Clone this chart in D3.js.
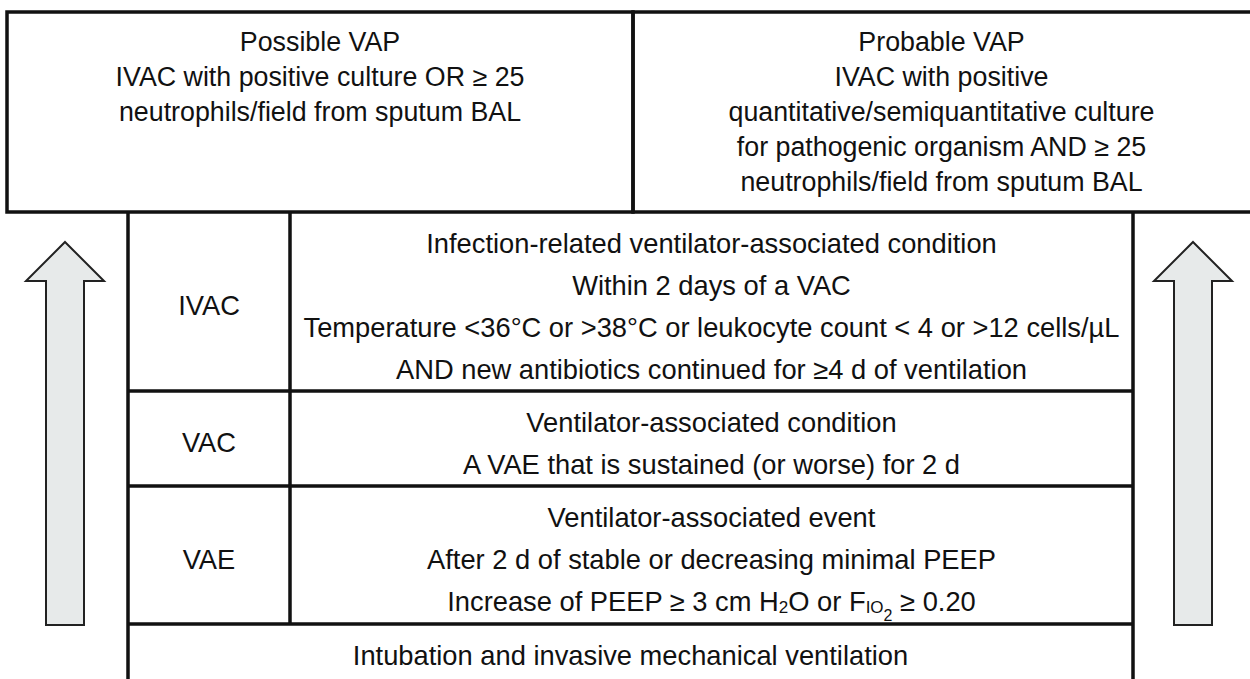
<!DOCTYPE html>
<meta charset="utf-8">
<style>
    body { margin: 0; background: #fff; }
    svg text {
        font-family: "Liberation Sans", Arial, Helvetica, sans-serif;
        font-size: 27.3px;
        fill: #111;
        text-anchor: middle;
    }
    svg text.top { font-size: 26.8px; }
    .frame {
        fill: none;
        stroke: #111;
        stroke-width: 3.5px;
    }
    .arrow {
        fill: #e7eaea;
        stroke: #222;
        stroke-width: 2px;
    }
</style>
<svg width="1250" height="679"></svg>
<script src="https://d3js.org/d3.v7.min.js"></script>
<script>

    // boxes on top
    var topTitles = ["Possible VAP", "Probable VAP"];
    var topLines = [
        ["IVAC with positive culture OR \u2265 25",
         "neutrophils/field from sputum BAL"],
        ["IVAC with positive",
         "quantitative/semiquantitative culture",
         "for pathogenic organism AND \u2265 25",
         "neutrophils/field from sputum BAL"]
    ];

    // table rows, from top to bottom
    var rowLabels = ["IVAC", "VAC", "VAE", ""];
    var rowLines = [
        ["Infection-related ventilator-associated condition",
         "Within 2 days of a VAC",
         "Temperature <36\u00b0C or >38\u00b0C or leukocyte count < 4 or >12 cells/\u00b5L",
         "AND new antibiotics continued for \u22654 d of ventilation"],
        ["Ventilator-associated condition",
         "A VAE that is sustained (or worse) for 2 d"],
        ["Ventilator-associated event",
         "After 2 d of stable or decreasing minimal PEEP",
         "Increase of PEEP \u2265 3 cm H_{2}O or F_{IO}__{2} \u2265 0.20"],
        ["Intubation and invasive mechanical ventilation"]
    ];

    var svg = d3.select("svg"),
        width = +svg.attr("width"),
        height = +svg.attr("height");

    // layout
    var topY0 = 12, topY1 = 212, topX0 = 7, topMid = 633;
    var tabX0 = 128, tabLab = 290, tabX1 = 1133;
    var rowEdges = [212, 391, 486, 624, 700];
    var lineGap = 42, topGap = 35;
    var fs = 27.3, fsTop = 26.8;

    var rowH = function (i) { return rowEdges[i + 1] - rowEdges[i]; };

    // top boxes
    var topX = d3.scaleOrdinal().domain([0, 1]).range([[topX0, topMid], [topMid, width + 10]]);

    var tops = svg.append("g").selectAll("g")
        .data(topTitles)
        .enter().append("g");

    tops.append("rect")
        .attr("class", "frame")
        .attr("x", function (d, i) { return topX(i)[0]; })
        .attr("y", topY0)
        .attr("width", function (d, i) { return topX(i)[1] - topX(i)[0]; })
        .attr("height", topY1 - topY0);

    tops.each(function (d, i) {
        var cx = (topX(i)[0] + Math.min(topX(i)[1], width)) / 2;
        var lines = [d].concat(topLines[i]);
        d3.select(this).selectAll("text")
            .data(lines)
            .enter().append("text")
            .attr("class", "top")
            .attr("x", cx)
            .attr("y", function (t, j) { return 42 + j * topGap + 0.35 * fsTop; })
            .text(function (t) { return t; });
    });

    // arrows
    var arrowX = [65, 1193];
    var arrow = d3.line();
    svg.append("g").selectAll("path")
        .data(arrowX)
        .enter().append("path")
        .attr("class", "arrow")
        .attr("d", function (cx) {
            return arrow([[cx, 242], [cx + 39, 281], [cx + 19, 281], [cx + 19, 625],
                [cx - 19, 625], [cx - 19, 281], [cx - 39, 281]]) + "Z";
        });

    // table
    var table = svg.append("g");

    table.append("path")
        .attr("class", "frame")
        .attr("d", "M" + tabX0 + "," + topY1 + "V" + (height + 10) +
            "M" + tabX1 + "," + topY1 + "V" + (height + 10) +
            "M" + tabLab + "," + topY1 + "V" + rowEdges[3]);

    table.selectAll("line.row")
        .data(rowEdges.slice(1, -1))
        .enter().append("line")
        .attr("class", "frame row")
        .attr("x1", tabX0).attr("x2", tabX1)
        .attr("y1", function (d) { return d; })
        .attr("y2", function (d) { return d; });

    var rows = table.selectAll("g.r")
        .data(rowLabels)
        .enter().append("g")
        .attr("class", "r");

    rows.append("text")
        .attr("x", (tabX0 + tabLab) / 2)
        .attr("y", function (d, i) { return rowEdges[i] + rowH(i) / 2 + 4 + 0.35 * fs; })
        .text(function (d) { return d; });

    function addRich(sel, s) {
        // "_{x}" subscript, "__{x}" deeper subscript
        var re = /(__?)\{([^}]*)\}/g, last = 0, m, shift = 0;
        function put(t, level) {
            var want = level === 0 ? 0 : (level === 1 ? 2 : 10);
            sel.append("tspan")
                .attr("dy", want - shift)
                .style("font-size", level === 0 ? null : (level === 1 ? "17px" : "16px"))
                .text(t);
            shift = want;
        }
        while ((m = re.exec(s)) !== null) {
            if (m.index > last) put(s.slice(last, m.index), 0);
            put(m[2], m[1].length);
            last = re.lastIndex;
        }
        if (last < s.length) put(s.slice(last), 0);
    }

    rows.each(function (d, i) {
        var lines = rowLines[i];
        var cx = i === 3 ? (tabX0 + tabX1) / 2 : (tabLab + tabX1) / 2;
        var y0 = rowEdges[i] + 31;
        d3.select(this).selectAll("text.l")
            .data(lines)
            .enter().append("text")
            .attr("class", "l")
            .attr("x", cx)
            .attr("y", function (t, j) { return y0 + j * lineGap + 0.35 * fs; })
            .each(function (t) {
                var el = d3.select(this);
                if (t.indexOf("{") < 0) el.text(t);
                else addRich(el, t);
            });
    });

</script>
